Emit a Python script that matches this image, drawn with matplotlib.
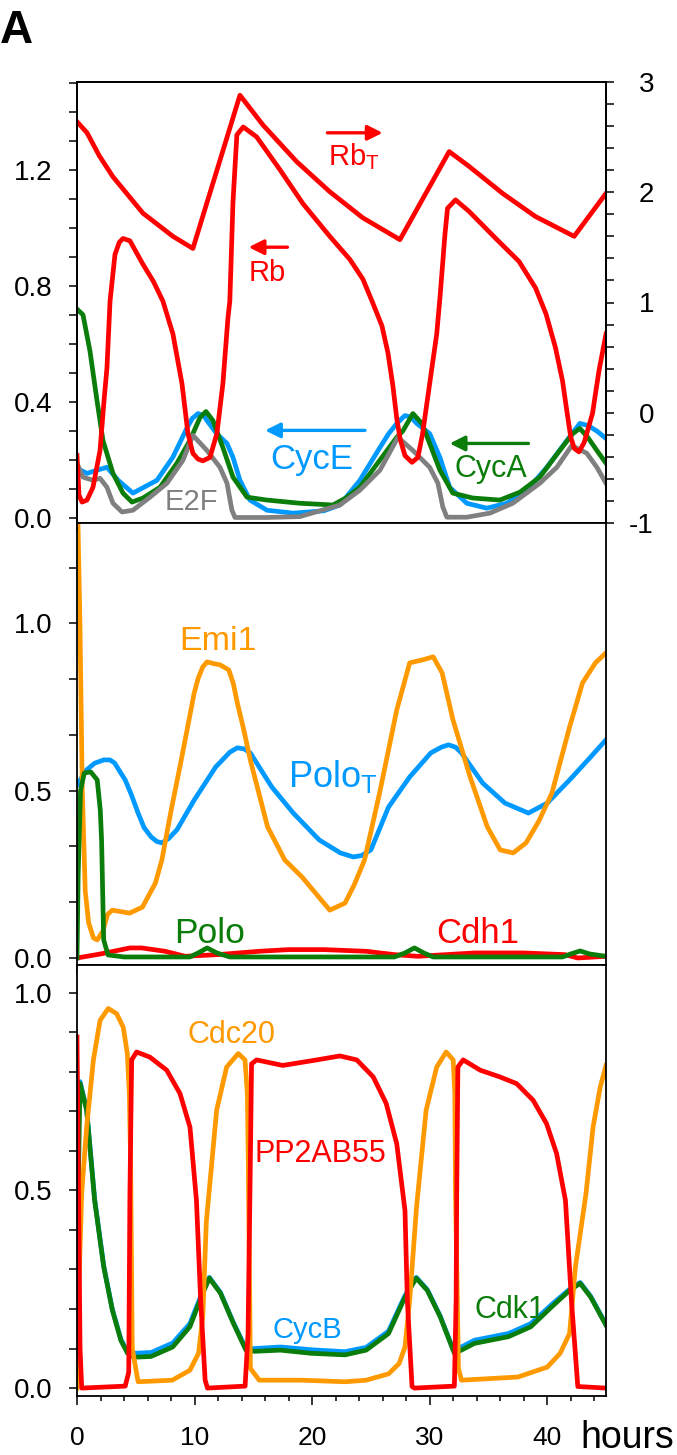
import matplotlib
matplotlib.use("Agg")
import matplotlib.pyplot as plt
from matplotlib.ticker import MultipleLocator, FormatStrFormatter

plt.rcParams['font.family'] = ['Liberation Sans', 'DejaVu Sans']
plt.rcParams['axes.unicode_minus'] = False

RED = '#ff0000'
GREEN = '#0a7d0a'
BLUE = '#0099ff'
ORANGE = '#ff9900'
GREY = '#808080'

# ---------------- top panel (Rb / E2F / CycE / CycA) ----------------
rbt_t = [0, 0.85, 1.9, 3.06, 5.61, 8.16, 9.86, 13.86, 15.82, 18.7, 21.5, 24.3, 27.47,
         31.66, 33.36, 36.2, 39.0, 42.29, 45]
rbt_v = [2.64, 2.54, 2.33, 2.14, 1.81, 1.60, 1.49, 2.88, 2.61, 2.276, 2.005, 1.769, 1.57,
         2.369, 2.234, 1.99, 1.78, 1.60, 1.99]

rb_t = [0, 0.17, 0.43, 0.85, 1.36, 1.96, 2.3, 2.55, 2.81, 3.23, 3.6, 3.91, 4.5, 5.61,
        6.5, 7.31, 8.16, 8.93, 9.44, 9.86, 10.3, 10.71, 11.31, 11.9, 12.41, 12.84,
        13.0, 13.27, 13.6, 14.14, 15.28, 17.26, 19.22, 21.51, 23.21, 24.32, 25.17,
        25.94, 26.45, 26.87, 27.2, 27.5, 27.9, 28.5, 29.0, 29.4, 30.0, 30.6, 30.9,
        31.3, 31.52, 32.2, 33.36, 35.6, 37.6, 39.0, 39.9, 40.7, 41.3, 41.7, 42.0, 42.3,
        42.7, 43.14, 43.85, 44.4, 44.84, 45]
rb_v = [0.216, 0.079, 0.055, 0.062, 0.106, 0.233, 0.405, 0.518, 0.747, 0.908, 0.95,
        0.963, 0.955, 0.874, 0.815, 0.747, 0.634, 0.463, 0.291, 0.223, 0.203, 0.197,
        0.209, 0.291, 0.463, 0.689, 0.747, 1.09, 1.32, 1.347, 1.313, 1.20, 1.083, 0.970,
        0.891, 0.823, 0.740, 0.662, 0.569, 0.456, 0.343, 0.27, 0.215, 0.192, 0.209,
        0.291, 0.463, 0.634, 0.771, 0.977, 1.067, 1.096, 1.056, 0.964, 0.884, 0.793,
        0.703, 0.587, 0.473, 0.36, 0.279, 0.24, 0.228, 0.26, 0.36, 0.507, 0.6, 0.634]

cyce_t = [0, 0.85, 1.70, 2.55, 3.5, 4.76, 6.80, 8.16, 9.35, 9.8, 10.3, 10.8, 11.05,
          11.9, 12.76, 13.27, 13.86, 14.71, 16.16, 18.37, 21.0, 22.36, 24.06, 25.77,
          26.5, 27.21, 27.89, 28.4, 28.9, 30.0, 30.87, 31.7, 33.16, 34.86, 36.56,
          38.27, 39.97, 41.67, 42.77, 43.45, 44.22, 45]
cyce_v = [0.171, 0.154, 0.165, 0.175, 0.13, 0.086, 0.13, 0.21, 0.31, 0.343, 0.36,
          0.352, 0.336, 0.29, 0.257, 0.209, 0.13, 0.062, 0.027, 0.017, 0.025, 0.045,
          0.13, 0.243, 0.29, 0.326, 0.353, 0.348, 0.326, 0.291, 0.209, 0.106, 0.051,
          0.034, 0.051, 0.096, 0.175, 0.267, 0.326, 0.319, 0.30, 0.274]

cyca_t = [0, 0.51, 1.1, 1.7, 2.21, 3.06, 3.91, 4.68, 5.61, 7.06, 8.5, 9.6, 10.46, 10.97,
          11.56, 12.41, 13.27, 14.46, 16.16, 18.96, 21.77, 22.9, 24.06, 25.77, 27.2,
          27.72, 28.57, 29.34, 30.0, 30.87, 31.97, 33.67, 35.97, 37.67, 39.37, 41.07,
          42.18, 42.77, 43.45, 44.22, 45]
cyca_v = [0.72, 0.70, 0.576, 0.405, 0.267, 0.154, 0.086, 0.055, 0.069, 0.106, 0.189,
          0.267, 0.346, 0.367, 0.336, 0.243, 0.141, 0.072, 0.062, 0.051, 0.045, 0.07,
          0.106, 0.2, 0.278, 0.30, 0.36, 0.326, 0.257, 0.165, 0.086, 0.069, 0.062, 0.089,
          0.141, 0.233, 0.291, 0.309, 0.278, 0.233, 0.189]

e2f_t = [0, 0.51, 1.36, 1.96, 2.55, 3.06, 3.83, 4.76, 6.21, 7.65, 9.01, 9.86, 11.05,
         12.16, 12.76, 13.18, 13.44, 16.16, 18.96, 21.77, 22.36, 24.06, 25.77, 27.3,
         28.57, 30.0, 30.7, 31.12, 31.46, 33.16, 35.12, 37.07, 39.37, 40.82, 42.09,
         43.37, 44.22, 45]
e2f_v = [0.189, 0.141, 0.13, 0.137, 0.106, 0.051, 0.021, 0.027, 0.072, 0.12, 0.199,
         0.285, 0.233, 0.175, 0.12, 0.027, 0.002, 0.002, 0.005, 0.038, 0.045, 0.096,
         0.165, 0.278, 0.233, 0.175, 0.12, 0.038, 0.003, 0.003, 0.017, 0.051, 0.12,
         0.175, 0.25, 0.223, 0.175, 0.12]

# ---------------- middle panel (Emi1 / Polo / Cdh1) ----------------
emi1_t = [0, 0.25, 0.45, 0.7, 0.99, 1.4, 1.72, 2.2, 2.6, 3.0, 4.47, 5.57, 6.67, 7.22,
          8.0, 8.87, 9.97, 10.3, 10.7, 11.07, 11.6, 12.17, 12.91, 13.3, 13.64, 14.2,
          14.74, 16.21, 17.67, 19.14, 21.5, 22.8, 23.6, 24.46, 25.74, 27.2, 28.3, 29.4,
          30.3, 31.06, 31.98, 33.44, 34.9, 36.0, 37.1, 38.2, 39.3, 40.4, 41.9, 43.0,
          44.1, 45]
emi1_v = [1.45, 1.0, 0.5, 0.2, 0.105, 0.06, 0.054, 0.08, 0.13, 0.143, 0.134, 0.152,
          0.224, 0.293, 0.44, 0.592, 0.792, 0.835, 0.87, 0.885, 0.88, 0.876, 0.861, 0.82,
          0.762, 0.68, 0.592, 0.392, 0.293, 0.242, 0.143, 0.164, 0.22, 0.293, 0.493,
          0.741, 0.882, 0.891, 0.90, 0.852, 0.712, 0.541, 0.392, 0.323, 0.314, 0.344,
          0.41, 0.493, 0.69, 0.822, 0.882, 0.912]

polot_t = [0, 0.81, 1.5, 2.27, 2.8, 3.19, 4.1, 4.6, 5.2, 5.7, 6.3, 6.8, 7.22, 7.8, 8.5,
           9.97, 11.8, 13.0, 13.64, 14.2, 14.74, 16.57, 18.4, 20.6, 22.4, 23.5, 24.2,
           25.0, 26.5, 28.3, 30.1, 31.0, 31.6, 32.2, 32.7, 34.5, 36.4, 38.4, 40.0, 41.9,
           43.7, 45]
polot_v = [0.517, 0.562, 0.582, 0.592, 0.592, 0.583, 0.532, 0.49, 0.433, 0.39, 0.362,
           0.348, 0.344, 0.357, 0.383, 0.472, 0.571, 0.615, 0.628, 0.625, 0.613, 0.511,
           0.433, 0.353, 0.314, 0.302, 0.306, 0.323, 0.451, 0.541, 0.613, 0.63, 0.637,
           0.63, 0.613, 0.523, 0.463, 0.433, 0.463, 0.532, 0.601, 0.652]

polo_t = [0, 0.1, 0.3, 0.62, 1.17, 1.72, 1.98, 2.09, 2.27, 2.64, 4.0, 9.6, 10.3, 11.07,
          11.9, 13.0, 27.0, 27.9, 28.7, 29.5, 30.3, 41.3, 42.0, 42.8, 43.6, 45]
polo_v = [0.0, 0.25, 0.5, 0.553, 0.556, 0.532, 0.442, 0.353, 0.054, 0.009, 0.003, 0.003,
          0.015, 0.03, 0.015, 0.003, 0.003, 0.015, 0.03, 0.015, 0.003, 0.003, 0.012,
          0.021, 0.012, 0.005]

cdh1_t = [0, 2.0, 4.5, 5.5, 7.5, 9.2, 12.0, 15.5, 18.0, 21.0, 24.6, 27.0, 29.0, 33.8,
          38.0, 41.5, 42.6, 45]
cdh1_v = [0.0, 0.012, 0.03, 0.03, 0.02, 0.005, 0.01, 0.02, 0.025, 0.025, 0.02, 0.01,
          0.005, 0.015, 0.015, 0.01, 0.0, 0.005]

# ---------------- bottom panel (Cdc20 / PP2AB55 / CycB / Cdk1) ----------------
cdc20_t = [0, 0.15, 0.4, 0.82, 1.39, 1.96, 2.66, 3.37, 3.94, 4.28, 4.45, 4.56, 4.7,
           5.2, 8.1, 9.6, 10.34, 10.7, 11.0, 11.88, 12.73, 13.72, 14.29, 14.49, 14.57,
           14.75, 15.5, 19.1, 22.8, 24.6, 26.5, 27.4, 27.9, 28.3, 28.88, 29.7, 30.6,
           31.4, 32.0, 32.14, 32.2, 32.45, 32.7, 37.5, 40.0, 41.1, 41.9, 42.4, 43.3,
           43.9, 44.5, 45]
cdc20_v = [0.0, 0.25, 0.492, 0.66, 0.829, 0.93, 0.96, 0.947, 0.912, 0.846, 0.745,
           0.576, 0.1, 0.016, 0.02, 0.045, 0.088, 0.18, 0.42, 0.703, 0.812, 0.846, 0.83,
           0.745, 0.576, 0.05, 0.02, 0.02, 0.016, 0.02, 0.036, 0.062, 0.104, 0.222,
           0.457, 0.703, 0.812, 0.85, 0.83, 0.745, 0.49, 0.05, 0.02, 0.028, 0.053,
           0.088, 0.138, 0.307, 0.492, 0.66, 0.76, 0.816]

pp2a_t = [0, 0.26, 0.4, 4.1, 4.4, 4.5, 4.65, 5.07, 6.2, 7.63, 8.76, 9.61, 10.16, 10.52,
          10.9, 11.1, 14.3, 14.55, 14.71, 14.85, 15.28, 17.5, 20.4, 22.36, 23.8, 25.2,
          26.3, 27.2, 27.9, 28.1, 28.5, 28.7, 32.1, 32.25, 32.3, 32.4, 32.85, 34.3,
          35.97, 37.4, 38.8, 39.94, 40.8, 41.55, 42.06, 42.6, 45]
pp2a_v = [0.888, 0.1, 0.0, 0.005, 0.04, 0.49, 0.83, 0.85, 0.837, 0.804, 0.745, 0.66,
          0.475, 0.222, 0.02, 0.0, 0.005, 0.138, 0.49, 0.82, 0.83, 0.816, 0.83, 0.84,
          0.83, 0.787, 0.72, 0.618, 0.449, 0.222, 0.004, 0.0, 0.005, 0.222, 0.49, 0.812,
          0.83, 0.804, 0.787, 0.77, 0.728, 0.669, 0.593, 0.475, 0.222, 0.004, 0.0]

cycb_t = [0, 0.26, 0.82, 1.5, 2.27, 3.0, 3.74, 4.3, 4.84, 6.3, 8.14, 9.6, 10.7, 11.26,
          12.2, 13.3, 14.37, 15.1, 17.3, 19.9, 22.8, 24.6, 26.5, 27.9, 28.86, 29.8, 30.9,
          31.97, 32.7, 33.8, 36.7, 38.6, 40.4, 41.9, 42.8, 43.7, 45]
cycb_v = [0.76, 0.775, 0.705, 0.478, 0.31, 0.2, 0.123, 0.092, 0.088, 0.09, 0.114, 0.163,
          0.245, 0.28, 0.242, 0.166, 0.1, 0.1, 0.104, 0.097, 0.092, 0.103, 0.144, 0.234,
          0.28, 0.249, 0.182, 0.1, 0.104, 0.121, 0.138, 0.163, 0.212, 0.25, 0.267, 0.232,
          0.161]

cdk1_t = [0, 0.1, 0.26, 0.82, 1.5, 2.27, 3.0, 3.74, 4.3, 4.84, 6.3, 8.14, 9.6, 10.7,
          11.26, 12.2, 13.3, 14.37, 15.1, 17.3, 19.9, 22.8, 24.6, 26.5, 27.9, 28.86,
          29.8, 30.9, 32.1, 32.7, 33.8, 36.7, 38.6, 40.4, 41.9, 42.8, 43.7, 45]
cdk1_v = [0.06, 0.5, 0.77, 0.703, 0.475, 0.307, 0.198, 0.12, 0.088, 0.078, 0.08, 0.104,
          0.155, 0.24, 0.278, 0.24, 0.164, 0.096, 0.093, 0.096, 0.088, 0.084, 0.096,
          0.138, 0.23, 0.278, 0.247, 0.18, 0.088, 0.096, 0.113, 0.13, 0.155, 0.206,
          0.247, 0.265, 0.23, 0.159]

LW = 3.4
fig = plt.figure(figsize=(6.77, 14.55), dpi=100)


def panel(top, bottom):
    return fig.add_axes([77 / 677, 1 - bottom / 1455, 529 / 677, (bottom - top) / 1455])


def style(ax, ylim, major, minor, xlabels=False):
    ax.set_xlim(0, 45)
    ax.set_ylim(*ylim)
    ax.xaxis.set_major_locator(MultipleLocator(10))
    ax.xaxis.set_minor_locator(MultipleLocator(2))
    ax.yaxis.set_major_locator(MultipleLocator(major))
    ax.yaxis.set_minor_locator(MultipleLocator(minor))
    ax.yaxis.set_major_formatter(FormatStrFormatter('%.1f'))
    ax.tick_params(axis='x', which='major', direction='out', length=6.5, width=1.1,
                   labelsize=19, pad=15, labelbottom=xlabels)
    ax.tick_params(axis='x', which='minor', direction='out', length=3.5, width=1.1)
    ax.tick_params(axis='y', which='both', direction='out', length=5.5, width=1.1,
                   labelsize=20, pad=12)
    for s in ax.spines.values():
        s.set_linewidth(1.3)


def line(ax, t, v, color):
    ax.plot(t, v, color=color, lw=LW, solid_joinstyle='round')


def arrow(ax, tip, tail, y, color):
    ax.annotate('', xy=(tip, y), xytext=(tail, y),
                arrowprops=dict(arrowstyle='-|>,head_length=0.9,head_width=0.45',
                                color=color, lw=2.4, shrinkA=0, shrinkB=0,
                                mutation_scale=10))


# top
ax1 = panel(82, 523)
style(ax1, (-0.017, 1.502), 0.4, 0.1)
line(ax1, cyce_t, cyce_v, BLUE)
line(ax1, cyca_t, cyca_v, GREEN)
line(ax1, e2f_t, e2f_v, GREY)
line(ax1, rb_t, rb_v, RED)
axr = ax1.twinx()
axr.set_ylim(-1, 3)
axr.yaxis.set_major_locator(MultipleLocator(1))
axr.yaxis.set_minor_locator(MultipleLocator(0.2))
axr.yaxis.set_major_formatter(FormatStrFormatter('%d'))
axr.tick_params(axis='y', which='both', direction='out', length=5.5, width=1.1,
                labelsize=20, pad=29)
for s in axr.spines.values():
    s.set_linewidth(1.3)
line(axr, rbt_t, rbt_v, RED)
for lab in axr.get_yticklabels():
    lab.set_horizontalalignment('right')

ax1.text(21.34, 1.217, r'Rb$_\mathregular{T}$', color=RED, fontsize=21, va='baseline')
arrow(ax1, 26.0, 21.3, 1.327, RED)
ax1.text(14.63, 0.816, 'Rb', color=RED, fontsize=21, va='baseline')
arrow(ax1, 14.6, 17.9, 0.933, RED)
ax1.text(16.4, 0.168, 'CycE', color=BLUE, fontsize=25, va='baseline')
arrow(ax1, 16.0, 24.5, 0.302, BLUE)
ax1.text(32.1, 0.141, 'CycA', color=GREEN, fontsize=22, va='baseline')
arrow(ax1, 31.7, 38.4, 0.257, GREEN)
ax1.text(7.48, 0.027, 'E2F', color=GREY, fontsize=21, va='baseline')

# middle
ax2 = panel(523, 965)
style(ax2, (-0.021, 1.3), 0.5, 1 / 6)
line(ax2, polot_t, polot_v, BLUE)
line(ax2, emi1_t, emi1_v, ORANGE)
line(ax2, cdh1_t, cdh1_v, RED)
line(ax2, polo_t, polo_v, GREEN)
ax2.text(8.67, 0.921, 'Emi1', color=ORANGE, fontsize=24.5, va='baseline')
ax2.text(17.96, 0.511, r'Polo$_\mathregular{T}$', color=BLUE, fontsize=26, va='baseline')
ax2.text(8.3, 0.045, 'Polo', color=GREEN, fontsize=25.5, va='baseline')
ax2.text(30.6, 0.045, 'Cdh1', color=RED, fontsize=25, va='baseline')

# bottom
ax3 = panel(965, 1396)
style(ax3, (-0.02, 1.07), 0.5, 0.1, xlabels=True)
ax3.xaxis.set_major_formatter(FormatStrFormatter('%d'))
line(ax3, cycb_t, cycb_v, BLUE)
line(ax3, cdk1_t, cdk1_v, GREEN)
line(ax3, cdc20_t, cdc20_v, ORANGE)
line(ax3, pp2a_t, pp2a_v, RED)
ax3.text(9.44, 0.874, 'Cdc20', color=ORANGE, fontsize=22, va='baseline')
ax3.text(15.14, 0.571, 'PP2AB55', color=RED, fontsize=22, va='baseline')
ax3.text(16.6, 0.126, 'CycB', color=BLUE, fontsize=21, va='baseline')
ax3.text(33.8, 0.176, 'Cdk1', color=GREEN, fontsize=22, va='baseline')

fig.text(580 / 677, 1 - 1448 / 1455, 'hours', fontsize=27, va='baseline')
fig.text(0.0, 1 - 43 / 1455, 'A', fontsize=33, fontweight='bold', va='baseline')

fig.savefig('out.png', dpi=100)
